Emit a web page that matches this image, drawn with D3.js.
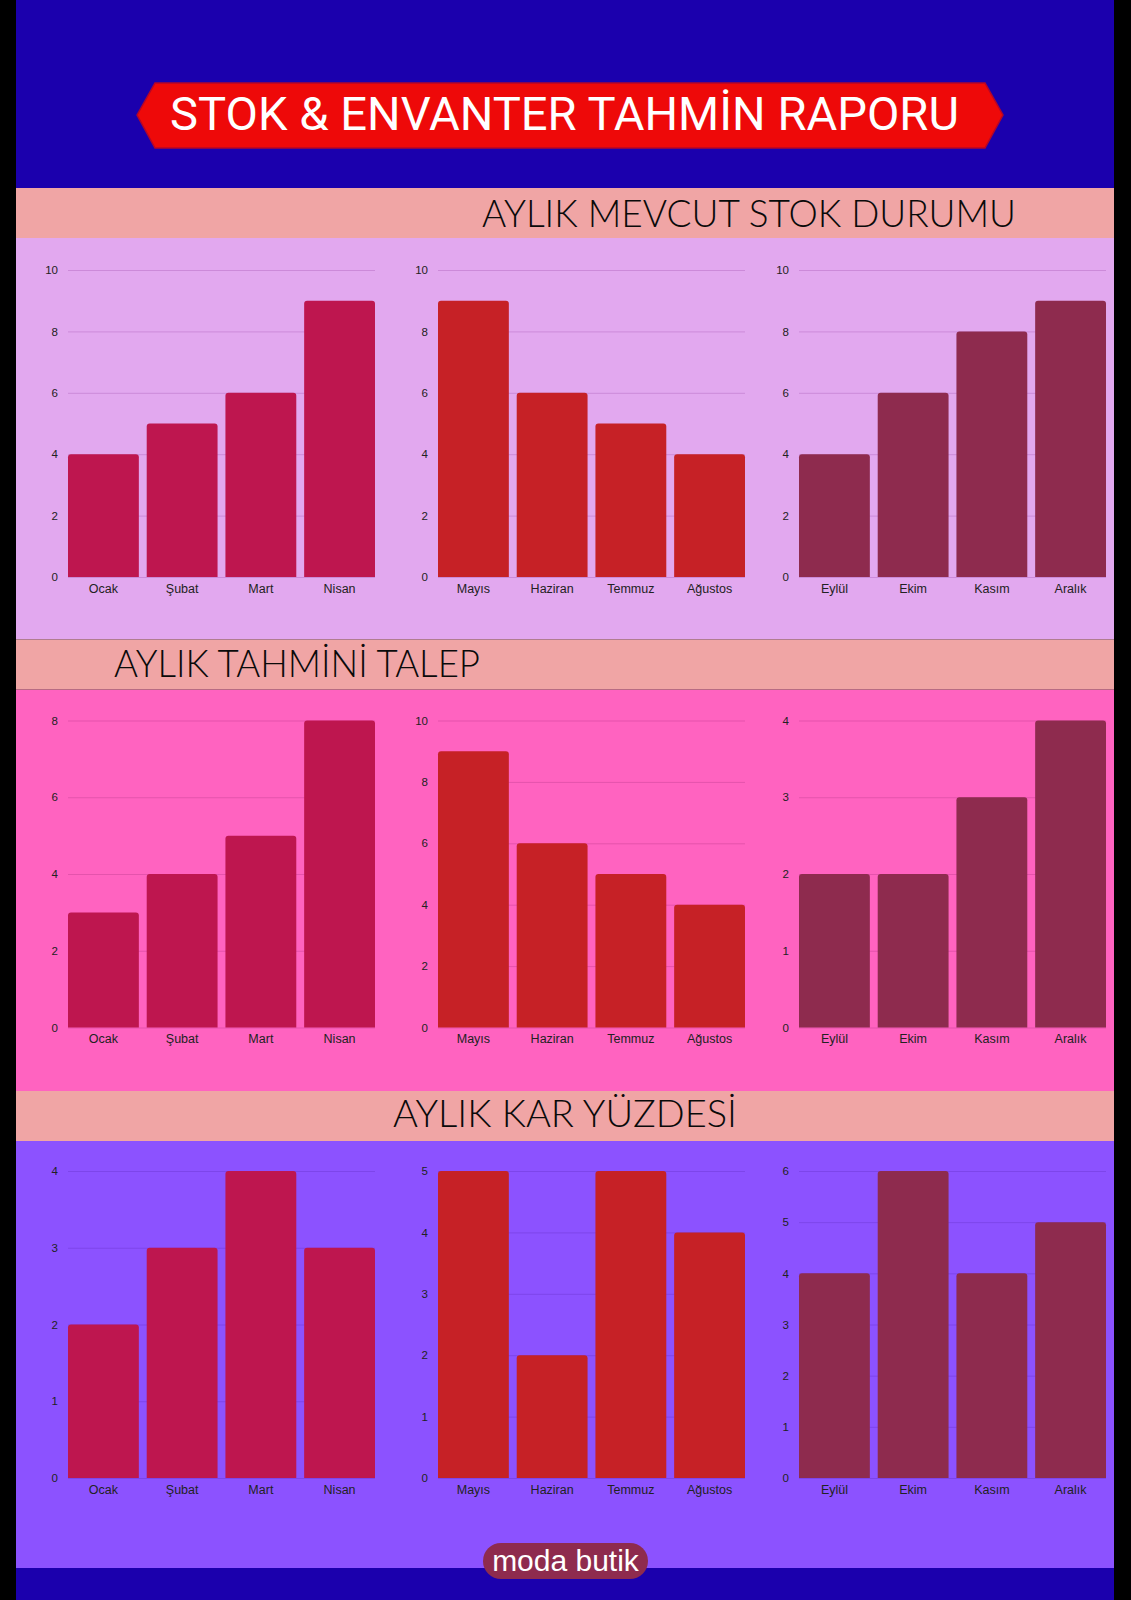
<!DOCTYPE html>
<html>
<head>
<meta charset="utf-8">
<script src="https://cdnjs.cloudflare.com/ajax/libs/d3/7.8.5/d3.min.js"></script>
<style>
  body { margin: 0; background: #000; }
  svg { display: block; }
</style>
</head>
<body>
<div id="chart"></div>
<script>
// ---- data ----
var reportTitle = "STOK & ENVANTER TAHMİN RAPORU";
var sectionTitles = ["AYLIK MEVCUT STOK DURUMU", "AYLIK TAHMİNİ TALEP", "AYLIK KAR YÜZDESİ"];
var footerText = "moda butik";

var months1 = ["Ocak", "Şubat", "Mart", "Nisan"];
var months2 = ["Mayıs", "Haziran", "Temmuz", "Ağustos"];
var months3 = ["Eylül", "Ekim", "Kasım", "Aralık"];

var stockValues = [[4, 5, 6, 9], [9, 6, 5, 4], [4, 6, 8, 9]];
var demandValues = [[3, 4, 5, 8], [9, 6, 5, 4], [2, 2, 3, 4]];
var profitValues = [[2, 3, 4, 3], [5, 2, 5, 4], [4, 6, 4, 5]];

var stockMax = [10, 10, 10];
var demandMax = [8, 10, 4];
var profitMax = [4, 5, 6];

// ---- layout ----
var svgWidth = 1131;
var svgHeight = 1600;
var contentLeft = 16;
var contentRight = 1114;

var chartLefts = [68, 438, 799];
var chartWidth = 307;
var sectionStep = 450.5;

var panelColors = ["#e2a8ef", "#ff63c0", "#8c52ff"];
var gridColors = ["#cc8ad9", "#e553ac", "#7d45ea"];
var barColors = ["#be164f", "#c62126", "#8e2b4e"];
var headerX = [749, 297, 565];
var headerW = [534, 366, 344];
var headerBase = [227, 677, 1127];

var svg = d3.select("#chart")
            .append("svg")
            .attr("width", svgWidth)
            .attr("height", svgHeight);

// top and bottom blue bands
svg.append("rect")
   .attr("x", contentLeft).attr("y", 0)
   .attr("width", contentRight - contentLeft).attr("height", 188)
   .attr("fill", "#1b00ad");
svg.append("rect")
   .attr("x", contentLeft).attr("y", 1568)
   .attr("width", contentRight - contentLeft).attr("height", 32)
   .attr("fill", "#1b00ad");

// title banner
var bannerPts = [[137, 115], [155, 83], [985, 83], [1003, 115], [985, 148], [155, 148]];
svg.append("polygon")
   .attr("points", bannerPts.map(p => p.join(",")).join(" "))
   .attr("fill", "#ee0909")
   .attr("stroke", "#b3062a")
   .attr("stroke-width", 1.5);
svg.append("text")
   .attr("x", 564.5)
   .attr("y", 130)
   .attr("text-anchor", "middle")
   .attr("font-family", "Roboto, sans-serif")
   .attr("font-size", "46px")
   .attr("fill", "#fff")
   .attr("textLength", 789)
   .attr("lengthAdjust", "spacingAndGlyphs")
   .text(reportTitle);

var allValues = [stockValues, demandValues, profitValues];
var allMax = [stockMax, demandMax, profitMax];
var allMonths = [months1, months2, months3];

allValues.forEach(function(sectionData, s) {
    var bandTop = 188 + 451.5 * s;
    var panelBottom = s < 2 ? 188 + 451.5 * (s + 1) : 1568;

    svg.append("rect")
       .attr("x", contentLeft).attr("y", bandTop + 50)
       .attr("width", contentRight - contentLeft).attr("height", panelBottom - bandTop - 50)
       .attr("fill", panelColors[s]);
    svg.append("rect")
       .attr("x", contentLeft).attr("y", bandTop)
       .attr("width", contentRight - contentLeft).attr("height", 50)
       .attr("fill", "#f0a5a5");
    svg.append("text")
       .attr("x", headerX[s])
       .attr("y", headerBase[s])
       .attr("text-anchor", "middle")
       .attr("font-family", "Lato, 'Open Sans', sans-serif")
       .attr("font-weight", 300)
       .attr("font-size", "38px")
       .attr("fill", "#0a0a0a")
       .attr("textLength", headerW[s])
       .attr("lengthAdjust", "spacingAndGlyphs")
       .text(sectionTitles[s]);

    var chartTop = 270 + sectionStep * s;
    var chartBottom = 577 + sectionStep * s;

    sectionData.forEach(function(values, c) {
        var data = allMonths[c].map((m, i) => ({ month: m, value: values[i] }));
        var left = chartLefts[c];

        var x = d3.scaleBand()
                  .domain(allMonths[c])
                  .range([left, left + chartWidth])
                  .paddingInner(0.1)
                  .paddingOuter(0);
        var y = d3.scaleLinear()
                  .domain([0, allMax[s][c]])
                  .range([chartBottom, chartTop]);

        var g = svg.append("g");

        // gridlines + tick labels
        var leftAxis = d3.axisLeft(y)
                         .ticks(5)
                         .tickSize(-chartWidth)
                         .tickPadding(10);
        var yAxis = g.append("g")
                     .attr("transform", `translate(${left}, 0)`)
                     .call(leftAxis);
        yAxis.select(".domain").remove();
        yAxis.selectAll(".tick line")
             .attr("stroke", gridColors[s])
             .attr("stroke-width", 1);
        yAxis.selectAll(".tick text")
             .attr("font-family", "'Liberation Sans', Arial, sans-serif")
             .attr("font-size", "11.5px")
             .attr("fill", "#222");

        // bars with rounded top corners
        var r = 3;
        g.selectAll("path.bar")
         .data(data)
         .enter()
         .append("path")
         .attr("class", "bar")
         .attr("fill", barColors[c])
         .attr("d", function(d) {
             var x0 = x(d.month), w = x.bandwidth();
             var y0 = y(d.value), y1 = y(0);
             return `M${x0},${y1}V${y0 + r}Q${x0},${y0} ${x0 + r},${y0}` +
                    `H${x0 + w - r}Q${x0 + w},${y0} ${x0 + w},${y0 + r}V${y1}Z`;
         });

        // category labels
        var bottomAxis = d3.axisBottom(x).tickSize(0).tickPadding(7);
        var xAxis = g.append("g")
                     .attr("transform", `translate(0, ${chartBottom})`)
                     .call(bottomAxis);
        xAxis.select(".domain").remove();
        xAxis.selectAll(".tick text")
             .attr("font-family", "'Liberation Sans', Arial, sans-serif")
             .attr("font-size", "12.5px")
             .attr("fill", "#222");
    });
});

// footer pill
svg.append("rect")
   .attr("x", 483).attr("y", 1543)
   .attr("width", 165).attr("height", 36)
   .attr("rx", 18)
   .attr("fill", "#8e2b4e");
svg.append("text")
   .attr("x", 565.5)
   .attr("y", 1571)
   .attr("text-anchor", "middle")
   .attr("font-family", "'Liberation Sans', Arial, sans-serif")
   .attr("font-size", "30px")
   .attr("fill", "#fff")
   .text(footerText);
</script>
</body>
</html>
